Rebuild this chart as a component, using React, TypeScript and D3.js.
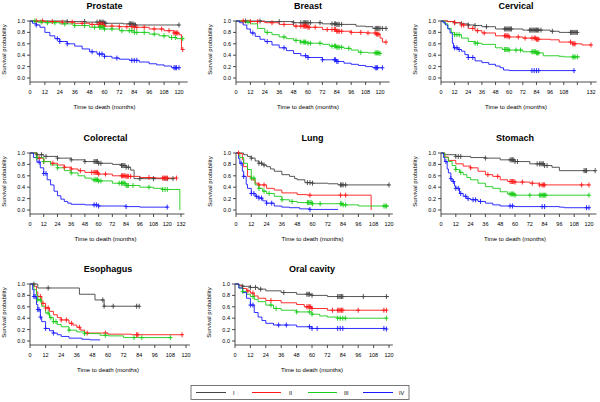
import React from 'react'
import * as d3 from 'd3'

type Pt = [number, number]

const stages = ['I', 'II', 'III', 'IV']
const stageColors = ['#444444', '#ff1a1a', '#1acc1a', '#1a1aff']
const yTicks = [0, 0.2, 0.4, 0.6, 0.8, 1.0]
const ticks120 = [0, 12, 24, 36, 48, 60, 72, 84, 96, 108, 120]
const ticks132 = [0, 12, 24, 36, 48, 60, 72, 84, 96, 108, 120, 132]

// Prostate
const prostateI: Pt[] = [[0, 1], [30, 0.99], [45, 0.98], [60, 0.96], [75, 0.95], [84, 0.93], [120, 0.93]]
const prostateII: Pt[] = [[0, 1], [12, 0.99], [24, 0.98], [36, 0.96], [48, 0.94], [60, 0.91], [72, 0.9], [84, 0.89], [96, 0.86], [108, 0.83], [116, 0.79], [120, 0.76], [122, 0.5], [123, 0.5]]
const prostateIII: Pt[] = [[0, 1], [6, 0.98], [12, 0.97], [24, 0.95], [36, 0.92], [48, 0.89], [60, 0.86], [72, 0.83], [84, 0.8], [96, 0.77], [104, 0.74], [112, 0.71], [118, 0.69], [123, 0.69]]
const prostateIV: Pt[] = [[0, 1], [2, 0.96], [5, 0.93], [8, 0.89], [12, 0.8], [16, 0.74], [20, 0.69], [24, 0.64], [30, 0.6], [36, 0.56], [42, 0.51], [48, 0.46], [54, 0.42], [60, 0.38], [66, 0.35], [72, 0.33], [80, 0.31], [88, 0.28], [96, 0.25], [102, 0.23], [108, 0.21], [114, 0.18], [120, 0.18]]
const prostateIc = [30, 44, 54, 56, 57, 58, 59, 60, 61, 80, 81, 82, 83, 84, 85, 120]
const prostateIIc = [5, 10, 18, 26, 34, 42, 50, 55, 56, 57, 58, 59, 60, 66, 72, 78, 82, 84, 86, 92, 100, 106, 112, 116, 117, 118, 119, 123]
const prostateIIIc = [4, 9, 14, 20, 28, 36, 44, 52, 56, 57, 58, 59, 60, 66, 74, 80, 82, 84, 86, 92, 100, 108, 114, 117, 123]
const prostateIVc = [5, 22, 24, 30, 50, 56, 58, 60, 70, 82, 84, 86, 116, 117, 118, 120]

// Breast
const breastI: Pt[] = [[0, 1], [24, 0.99], [48, 0.97], [72, 0.95], [84, 0.94], [100, 0.91], [108, 0.9], [114, 0.87], [125, 0.87]]
const breastII: Pt[] = [[0, 1], [12, 0.99], [24, 0.97], [36, 0.94], [48, 0.91], [60, 0.89], [72, 0.85], [84, 0.82], [96, 0.8], [108, 0.79], [117, 0.77], [120, 0.7], [122, 0.63], [125, 0.63]]
const breastIII: Pt[] = [[0, 1], [6, 0.98], [12, 0.95], [18, 0.87], [24, 0.8], [30, 0.76], [36, 0.72], [42, 0.69], [48, 0.66], [54, 0.63], [60, 0.61], [72, 0.59], [78, 0.56], [84, 0.54], [90, 0.52], [96, 0.49], [102, 0.45], [110, 0.44], [120, 0.43]]
const breastIV: Pt[] = [[0, 1], [3, 0.97], [6, 0.93], [9, 0.86], [12, 0.79], [16, 0.73], [20, 0.68], [24, 0.64], [30, 0.58], [36, 0.53], [42, 0.48], [48, 0.43], [54, 0.39], [60, 0.36], [72, 0.32], [84, 0.29], [90, 0.26], [96, 0.24], [102, 0.22], [108, 0.2], [114, 0.18], [122, 0.18]]
const breastIc = [8, 20, 36, 48, 54, 56, 57, 58, 59, 60, 62, 70, 80, 82, 83, 84, 85, 86, 88, 116, 117, 118, 119, 120, 122, 125]
const breastIIc = [6, 12, 18, 30, 40, 50, 54, 56, 57, 58, 59, 60, 61, 66, 76, 80, 82, 83, 84, 85, 86, 88, 96, 104, 110, 116, 117, 118, 119, 125]
const breastIIIc = [10, 26, 40, 50, 54, 56, 57, 58, 60, 62, 70, 80, 82, 83, 84, 85, 86, 88, 94, 104, 116, 117, 118, 119, 120]
const breastIVc = [14, 26, 40, 58, 60, 72, 82, 83, 84, 85, 116, 117, 118, 122]

// Cervical
const cervicalI: Pt[] = [[0, 1], [6, 0.99], [12, 0.97], [18, 0.95], [24, 0.93], [30, 0.92], [36, 0.9], [48, 0.86], [72, 0.84], [96, 0.82], [104, 0.8], [120, 0.8]]
const cervicalII: Pt[] = [[0, 1], [6, 0.99], [12, 0.97], [18, 0.93], [24, 0.87], [30, 0.83], [36, 0.79], [48, 0.74], [60, 0.72], [72, 0.7], [84, 0.68], [96, 0.67], [104, 0.63], [116, 0.6], [124, 0.58], [132, 0.58]]
const cervicalIII: Pt[] = [[0, 1], [3, 0.95], [6, 0.87], [9, 0.8], [12, 0.76], [18, 0.7], [24, 0.64], [30, 0.61], [36, 0.59], [48, 0.53], [54, 0.5], [60, 0.49], [72, 0.46], [84, 0.44], [90, 0.39], [104, 0.38], [108, 0.37], [122, 0.37]]
const cervicalIV: Pt[] = [[0, 1], [2, 0.97], [4, 0.93], [6, 0.86], [8, 0.79], [10, 0.61], [11, 0.53], [15, 0.5], [18, 0.47], [21, 0.41], [24, 0.36], [30, 0.3], [36, 0.27], [42, 0.24], [48, 0.21], [52, 0.18], [55, 0.14], [60, 0.13], [117, 0.13]]
const cervicalIc = [12, 18, 24, 30, 40, 56, 57, 58, 59, 60, 61, 62, 78, 79, 80, 81, 82, 83, 84, 85, 86, 88, 98, 114, 115, 116, 117, 118, 119, 120]
const cervicalIIc = [12, 18, 20, 28, 32, 38, 56, 57, 58, 59, 60, 68, 74, 80, 82, 83, 84, 85, 86, 114, 116, 117, 118, 132]
const cervicalIIIc = [12, 14, 16, 30, 32, 56, 57, 58, 59, 60, 66, 70, 80, 81, 82, 83, 84, 85, 86, 116, 117, 118, 120]
const cervicalIVc = [12, 14, 16, 24, 28, 80, 82, 84, 86, 117]

// Colorectal
const colorectalI: Pt[] = [[0, 1], [6, 0.97], [12, 0.94], [24, 0.91], [36, 0.88], [48, 0.85], [60, 0.82], [72, 0.8], [80, 0.78], [84, 0.75], [88, 0.7], [91, 0.55], [125, 0.55]]
const colorectalII: Pt[] = [[0, 1], [6, 0.91], [12, 0.85], [18, 0.82], [24, 0.79], [30, 0.75], [36, 0.72], [42, 0.69], [48, 0.66], [60, 0.63], [72, 0.6], [84, 0.59], [96, 0.57], [110, 0.56], [128, 0.56]]
const colorectalIII: Pt[] = [[0, 1], [6, 0.92], [12, 0.85], [18, 0.79], [24, 0.74], [30, 0.69], [36, 0.65], [42, 0.6], [48, 0.56], [54, 0.53], [60, 0.51], [72, 0.47], [84, 0.43], [96, 0.4], [108, 0.38], [116, 0.36], [131, 0.0], [131, 0.0]]
const colorectalIV: Pt[] = [[0, 1], [3, 0.92], [6, 0.84], [9, 0.74], [12, 0.64], [15, 0.53], [18, 0.44], [21, 0.33], [24, 0.25], [27, 0.19], [30, 0.15], [33, 0.12], [36, 0.1], [48, 0.09], [60, 0.07], [84, 0.06], [96, 0.05], [120, 0.05]]
const colorectalIc = [6, 10, 14, 24, 36, 48, 56, 57, 58, 59, 60, 62, 80, 81, 82, 83, 84, 86, 96, 108, 118, 120, 125]
const colorectalIIc = [8, 12, 20, 30, 36, 44, 54, 56, 57, 58, 59, 60, 66, 80, 81, 82, 83, 84, 85, 86, 88, 104, 116, 117, 118, 119, 120, 128]
const colorectalIIIc = [6, 12, 24, 36, 56, 57, 58, 59, 60, 62, 78, 80, 81, 82, 83, 84, 85, 86, 90, 104, 116, 118, 120]
const colorectalIVc = [8, 12, 14, 56, 58, 60, 84, 120]

// Lung
const lungI: Pt[] = [[0, 1], [6, 0.97], [9, 0.94], [12, 0.91], [15, 0.86], [18, 0.82], [21, 0.79], [24, 0.76], [27, 0.72], [30, 0.68], [36, 0.62], [42, 0.59], [46, 0.55], [48, 0.53], [54, 0.48], [60, 0.47], [72, 0.46], [80, 0.44], [120, 0.44]]
const lungII: Pt[] = [[0, 1], [3, 0.99], [5, 0.88], [6, 0.76], [9, 0.59], [12, 0.53], [15, 0.47], [18, 0.44], [24, 0.38], [30, 0.35], [36, 0.3], [48, 0.27], [56, 0.26], [106, 0.0], [106, 0.0]]
const lungIII: Pt[] = [[0, 1], [3, 0.92], [6, 0.82], [9, 0.71], [12, 0.56], [15, 0.44], [18, 0.38], [21, 0.33], [24, 0.29], [30, 0.24], [36, 0.18], [42, 0.15], [48, 0.13], [60, 0.11], [84, 0.09], [96, 0.07], [120, 0.07]]
const lungIV: Pt[] = [[0, 1], [2, 0.9], [3, 0.82], [5, 0.68], [6, 0.59], [8, 0.45], [9, 0.38], [12, 0.29], [15, 0.24], [18, 0.21], [21, 0.16], [24, 0.12], [30, 0.07], [36, 0.05], [42, 0.04], [50, 0.02], [58, 0.01], [80, 0.01]]
const lungIc = [12, 18, 20, 22, 56, 58, 60, 82, 83, 84, 86, 120]
const lungIIc = [2, 18, 22, 58, 82, 86]
const lungIIIc = [12, 14, 18, 22, 26, 36, 44, 56, 57, 58, 59, 60, 66, 82, 83, 84, 86, 116, 117, 118]
const lungIVc = [4, 6, 12, 14, 16, 18, 20, 24, 28, 58]

// Stomach
const stomachI: Pt[] = [[0, 1], [3, 0.97], [12, 0.94], [24, 0.92], [36, 0.91], [48, 0.88], [60, 0.85], [72, 0.81], [84, 0.78], [90, 0.75], [96, 0.69], [125, 0.69]]
const stomachII: Pt[] = [[0, 1], [3, 0.93], [6, 0.87], [12, 0.81], [18, 0.77], [24, 0.74], [30, 0.68], [36, 0.62], [42, 0.59], [48, 0.53], [54, 0.5], [60, 0.49], [72, 0.47], [80, 0.44], [120, 0.44]]
const stomachIII: Pt[] = [[0, 1], [3, 0.92], [6, 0.85], [9, 0.78], [12, 0.71], [15, 0.66], [18, 0.62], [21, 0.57], [24, 0.53], [30, 0.47], [36, 0.41], [42, 0.38], [48, 0.32], [54, 0.28], [60, 0.26], [120, 0.26]]
const stomachIV: Pt[] = [[0, 1], [2, 0.92], [3, 0.85], [5, 0.72], [6, 0.65], [8, 0.55], [9, 0.5], [11, 0.42], [12, 0.38], [15, 0.29], [18, 0.24], [21, 0.2], [24, 0.18], [30, 0.15], [36, 0.12], [42, 0.09], [48, 0.07], [60, 0.06], [96, 0.05], [100, 0.04], [120, 0.04]]
const stomachIc = [12, 14, 16, 36, 56, 57, 58, 59, 60, 62, 78, 80, 81, 82, 83, 84, 86, 116, 117, 118, 125]
const stomachIIc = [24, 38, 46, 56, 57, 58, 59, 60, 66, 74, 80, 82, 83, 84, 114, 120]
const stomachIIIc = [12, 16, 56, 57, 58, 59, 60, 72, 80, 81, 82, 83, 84, 85, 120]
const stomachIVc = [4, 8, 10, 12, 14, 16, 20, 22, 26, 28, 32, 56, 58, 82, 84, 118, 120]

// Esophagus
const esophagusI: Pt[] = [[0, 1], [6, 0.93], [38, 0.82], [50, 0.72], [57, 0.61], [84, 0.61]]
const esophagusII: Pt[] = [[0, 1], [3, 0.96], [5, 0.86], [6, 0.78], [9, 0.66], [12, 0.58], [15, 0.52], [18, 0.46], [21, 0.41], [24, 0.37], [30, 0.31], [33, 0.28], [36, 0.24], [39, 0.19], [42, 0.14], [60, 0.12], [78, 0.11], [117, 0.11]]
const esophagusIII: Pt[] = [[0, 1], [3, 0.9], [5, 0.8], [6, 0.72], [9, 0.61], [12, 0.49], [15, 0.41], [18, 0.34], [21, 0.29], [24, 0.25], [30, 0.19], [36, 0.16], [42, 0.13], [54, 0.1], [60, 0.09], [72, 0.06], [108, 0.06]]
const esophagusIV: Pt[] = [[0, 1], [2, 0.9], [3, 0.78], [5, 0.64], [6, 0.55], [8, 0.42], [9, 0.34], [12, 0.22], [15, 0.18], [18, 0.14], [21, 0.11], [24, 0.08], [30, 0.05], [40, 0.03], [46, 0.02], [54, 0.02]]
const esophagusIc = [3, 14, 56, 57, 64, 82, 84]
const esophagusIIc = [8, 10, 12, 14, 24, 28, 32, 38, 44, 58, 82, 83, 117]
const esophagusIIIc = [6, 8, 14, 16, 18, 20, 30, 42, 58, 80, 86, 108]
const esophagusIVc = [3, 4, 6, 7, 8, 12, 18]

// Oral cavity
const oralI: Pt[] = [[0, 1], [3, 0.98], [6, 0.96], [12, 0.94], [18, 0.91], [24, 0.88], [36, 0.85], [48, 0.82], [60, 0.8], [72, 0.78], [120, 0.78]]
const oralII: Pt[] = [[0, 1], [3, 0.97], [6, 0.92], [9, 0.88], [12, 0.84], [15, 0.79], [18, 0.75], [24, 0.71], [36, 0.67], [48, 0.64], [54, 0.6], [60, 0.57], [72, 0.54], [118, 0.54]]
const oralIII: Pt[] = [[0, 1], [3, 0.93], [6, 0.87], [9, 0.82], [12, 0.78], [15, 0.73], [18, 0.69], [24, 0.63], [30, 0.57], [36, 0.54], [48, 0.51], [60, 0.47], [66, 0.44], [72, 0.42], [80, 0.4], [118, 0.4]]
const oralIV: Pt[] = [[0, 1], [3, 0.93], [6, 0.85], [9, 0.75], [12, 0.63], [15, 0.5], [18, 0.42], [21, 0.36], [24, 0.31], [30, 0.28], [48, 0.25], [60, 0.22], [118, 0.21]]
const oralIc = [6, 12, 16, 20, 38, 56, 57, 58, 60, 80, 81, 82, 83, 84, 100, 118]
const oralIIc = [10, 14, 28, 56, 57, 58, 59, 60, 76, 80, 81, 82, 83, 84, 96, 116, 118]
const oralIIIc = [6, 14, 28, 32, 48, 58, 60, 80, 82, 84, 86, 118]
const oralIVc = [12, 14, 34, 40, 58, 60, 64, 80, 82, 84, 116, 118]

const titles = ['Prostate', 'Breast', 'Cervical', 'Colorectal', 'Lung', 'Stomach', 'Esophagus', 'Oral cavity']
const curveSets: Pt[][][] = [
  [prostateI, prostateII, prostateIII, prostateIV],
  [breastI, breastII, breastIII, breastIV],
  [cervicalI, cervicalII, cervicalIII, cervicalIV],
  [colorectalI, colorectalII, colorectalIII, colorectalIV],
  [lungI, lungII, lungIII, lungIV],
  [stomachI, stomachII, stomachIII, stomachIV],
  [esophagusI, esophagusII, esophagusIII, esophagusIV],
  [oralI, oralII, oralIII, oralIV],
]
const censorSets: number[][][] = [
  [prostateIc, prostateIIc, prostateIIIc, prostateIVc],
  [breastIc, breastIIc, breastIIIc, breastIVc],
  [cervicalIc, cervicalIIc, cervicalIIIc, cervicalIVc],
  [colorectalIc, colorectalIIc, colorectalIIIc, colorectalIVc],
  [lungIc, lungIIc, lungIIIc, lungIVc],
  [stomachIc, stomachIIc, stomachIIIc, stomachIVc],
  [esophagusIc, esophagusIIc, esophagusIIIc, esophagusIVc],
  [oralIc, oralIIc, oralIIIc, oralIVc],
]
const xTickSets = [ticks120, ticks120, ticks132, ticks132, ticks120, ticks120, ticks120, ticks120]
const hiddenLabels = [[], [], [120], [], [], [], [], []]

// layout: pixel of t=0, pixel of last tick, domain end of the axis line, row top (s=1) and zero
const layout = [
  { x0: 30, x1: 179, tEnd: 127, top: 21, zero: 78 },
  { x0: 236, x1: 380, tEnd: 128, top: 21, zero: 78 },
  { x0: 441, x1: 591, tEnd: 137, top: 21, zero: 78 },
  { x0: 30, x1: 181, tEnd: 135, top: 153, zero: 210 },
  { x0: 236, x1: 389, tEnd: 123, top: 153, zero: 210 },
  { x0: 441, x1: 589, tEnd: 126, top: 153, zero: 210 },
  { x0: 30, x1: 186, tEnd: 123, top: 284, zero: 341 },
  { x0: 235, x1: 389, tEnd: 123, top: 284, zero: 341 },
]

const font = 'Liberation Sans, Arial, sans-serif'

function survAt(curve: Pt[], t: number) {
  let s = curve[0][1]
  for (const [ti, si] of curve) {
    if (ti <= t) s = si
  }
  return s
}

function Panel({ idx }: { idx: number }) {
  const L = layout[idx]
  const ticks = xTickSets[idx]
  const tMax = ticks[ticks.length - 1]
  const x = d3.scaleLinear().domain([0, tMax]).range([L.x0, L.x1])
  const y = d3.scaleLinear().domain([0, 1]).range([L.zero, L.top])
  const axisY = L.zero + 4
  const line = d3
    .line<Pt>()
    .x(d => x(d[0]))
    .y(d => y(d[1]))
    .curve(d3.curveStepAfter)
  const midX = (L.x0 + x(tMax)) / 2
  const midY = (L.top + L.zero) / 2
  return (
    <g>
      <text x={midX} y={L.top - 12} textAnchor="middle" fontFamily={font} fontWeight="bold" fontSize={9}>
        {titles[idx]}
      </text>
      {/* axes */}
      <line x1={L.x0} x2={L.x0} y1={L.top} y2={axisY} stroke="#222" strokeWidth={0.8} />
      <line x1={L.x0} x2={x(L.tEnd)} y1={axisY} y2={axisY} stroke="#222" strokeWidth={0.8} />
      {yTicks.map(v => (
        <g key={v}>
          <line x1={L.x0 - 3} x2={L.x0} y1={y(v)} y2={y(v)} stroke="#222" strokeWidth={0.8} />
          <text x={L.x0 - 5} y={y(v) + 2} textAnchor="end" fontFamily={font} fontSize={5.5}>
            {v.toFixed(1)}
          </text>
        </g>
      ))}
      {ticks.map(v => (
        <g key={v}>
          <line x1={x(v)} x2={x(v)} y1={axisY} y2={axisY + 3} stroke="#222" strokeWidth={0.8} />
          {!hiddenLabels[idx].includes(v) && (
            <text x={x(v)} y={axisY + 12} textAnchor="middle" fontFamily={font} fontSize={5.5}>
              {v}
            </text>
          )}
        </g>
      ))}
      <text
        transform={`translate(${L.x0 - 24},${midY}) rotate(-90)`}
        textAnchor="middle"
        fontFamily={font}
        fontSize={6}
      >
        Survival probability
      </text>
      <text x={midX} y={L.zero + 31} textAnchor="middle" fontFamily={font} fontSize={6}>
        Time to death (months)
      </text>
      {/* curves */}
      {curveSets[idx].map((c, i) => (
        <path key={i} d={line(c) || ''} fill="none" stroke={stageColors[i]} strokeWidth={0.9} />
      ))}
      {censorSets[idx].map((cs, i) =>
        cs.map((t, j) => {
          const px = x(t)
          const py = y(survAt(curveSets[idx][i], t))
          return (
            <path
              key={`${i}-${j}`}
              d={`M${px - 2},${py}H${px + 2}M${px},${py - 2.5}V${py + 2.5}`}
              stroke={stageColors[i]}
              strokeWidth={0.9}
              fill="none"
            />
          )
        })
      )}
    </g>
  )
}

const legendLines = [
  [196, 226, 233],
  [252, 281, 289],
  [308, 337, 344],
  [363, 393, 399],
]

export default function App() {
  return (
    <svg width={600} height={402} style={{ position: 'absolute', left: 0, top: 0, background: '#fff' }}>
      <rect width={600} height={402} fill="#fff" />
      {titles.map((t, i) => (
        <Panel key={t} idx={i} />
      ))}
      <rect x={191} y={385.5} width={218} height={14} fill="#fff" stroke="#555" strokeWidth={0.8} />
      {stages.map((s, i) => (
        <g key={s}>
          <line
            x1={legendLines[i][0]}
            x2={legendLines[i][1]}
            y1={392.5}
            y2={392.5}
            stroke={stageColors[i]}
            strokeWidth={1}
          />
          <text x={legendLines[i][2]} y={394.5} fontFamily={font} fontSize={5.5}>
            {s}
          </text>
        </g>
      ))}
    </svg>
  )
}
